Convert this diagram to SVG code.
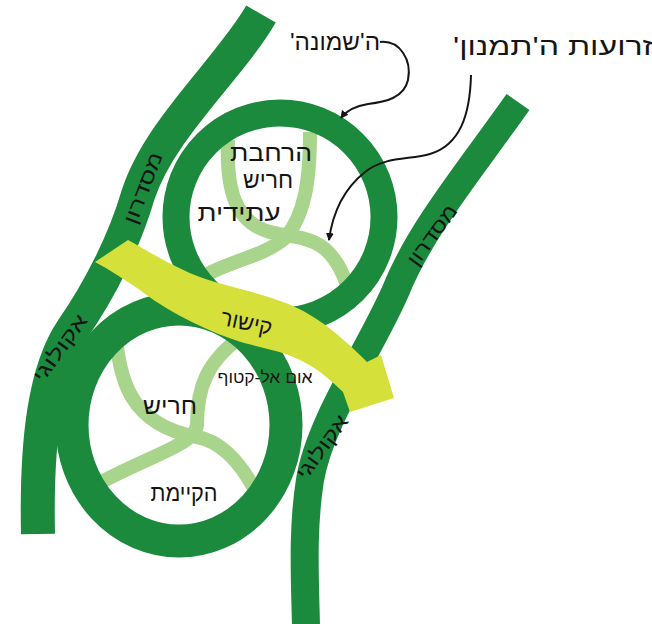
<svg xmlns="http://www.w3.org/2000/svg" width="652" height="624" viewBox="0 0 652 624">
<style>
.dg{fill:none;stroke:#1b8a3d;}
.lg{fill:none;stroke:#a9d48c;stroke-width:14;}
.yl{fill:#d6e03a;}
.t{font-family:"Liberation Sans","DejaVu Sans",sans-serif;fill:#151515;text-anchor:middle;direction:rtl;unicode-bidi:embed;}
.cl{fill:none;stroke:#151515;stroke-width:2;}
</style>
<defs>
<marker id="ah" markerWidth="10" markerHeight="10" refX="7" refY="5" orient="auto" markerUnits="userSpaceOnUse"><path d="M0,1 L8,5 L0,9 z" fill="#151515"/></marker>
</defs>
<rect width="652" height="624" fill="#fff"/>

<g id="streets">
<path class="lg" d="M228,140 C226,190 235,222 270,232 C300,240 330,232 348,288"/>
<path class="lg" d="M310,132 C310,180 305,215 285,238 C260,260 215,262 188,288"/>
<path class="lg" d="M115,325 C118,380 130,425 197,437 C215,440 240,455 262,505"/>
<path class="lg" d="M248,332 C205,360 197,390 197,425 C195,445 150,455 90,488"/>
</g>

<g id="ring-upper"><circle class="dg" cx="280" cy="217" r="104" stroke-width="27"/></g>
<g id="ring-lower"><ellipse class="dg" cx="179" cy="425" rx="107" ry="116" stroke-width="33"/></g>
<g id="corridor-left"><path class="dg" stroke-width="34" d="M261,14 C230,68 160,128 138,195 C125,240 100,290 72,330 C45,370 36,440 38,534"/></g>
<g id="corridor-right"><path class="dg" stroke-width="28" d="M518,102 C470,170 420,230 396,290 C370,350 320,420 310,480 C302,530 305,580 306,626"/></g>

<g id="link-arrow">
<path class="yl" d="M128,240 C150,252 180,272 215,282 C250,292 280,298 305,312 C330,326 350,345 367,362 L381,355 L394,398 L350,412 L343,392 C330,380 320,370 300,360 C280,350 255,347 235,340 C205,330 165,310 140,290 C125,280 110,270 95,262 Z"/>
</g>

<g id="labels">
<text class="t" x="271" y="161" font-size="24" textLength="82" lengthAdjust="spacingAndGlyphs">הרחבת</text>
<text class="t" x="268" y="188" font-size="24" textLength="50" lengthAdjust="spacingAndGlyphs">חריש</text>
<text class="t" x="239" y="221" font-size="24" textLength="83" lengthAdjust="spacingAndGlyphs">עתידית</text>
<text class="t" x="170" y="414" font-size="24" textLength="54" lengthAdjust="spacingAndGlyphs">חריש</text>
<text class="t" x="184" y="501" font-size="24" textLength="67" lengthAdjust="spacingAndGlyphs">הקיימת</text>
<text class="t" x="0" y="0" font-size="22" textLength="52" lengthAdjust="spacingAndGlyphs" transform="translate(245,330) rotate(12)">קישור</text>
<text class="t" x="265" y="383" font-size="16" textLength="95" lengthAdjust="spacingAndGlyphs">אום אל-קטוף</text>
<text class="t" x="0" y="7" font-size="20" textLength="75" lengthAdjust="spacingAndGlyphs" transform="translate(143,188) rotate(-69)">מסדרון</text>
<text class="t" x="0" y="7" font-size="20" textLength="70" lengthAdjust="spacingAndGlyphs" transform="translate(432,235) rotate(-54)">מסדרון</text>
<text class="t" x="0" y="7" font-size="20" textLength="78" lengthAdjust="spacingAndGlyphs" transform="translate(60,348) rotate(-54)">אקולוגי</text>
<text class="t" x="0" y="7" font-size="20" textLength="74" lengthAdjust="spacingAndGlyphs" transform="translate(322,447) rotate(-54)">אקולוגי</text>
<text class="t" x="335" y="50" font-size="24" textLength="90" lengthAdjust="spacingAndGlyphs">ה'שמונה'</text>
<text class="t" x="553" y="55" font-size="25" textLength="200" lengthAdjust="spacingAndGlyphs">זרועות ה'תמנון'</text>
</g>

<g id="connectors">
<path class="cl" marker-end="url(#ah)" d="M380,42 C400,40 412,60 408,80 C404,98 385,102 368,104 C355,106 347,110 341,118"/>
<path class="cl" marker-end="url(#ah)" d="M471,75 C470,115 460,145 430,154 C410,160 385,156 365,172 C345,188 333,210 329,240"/>
</g>
</svg>
